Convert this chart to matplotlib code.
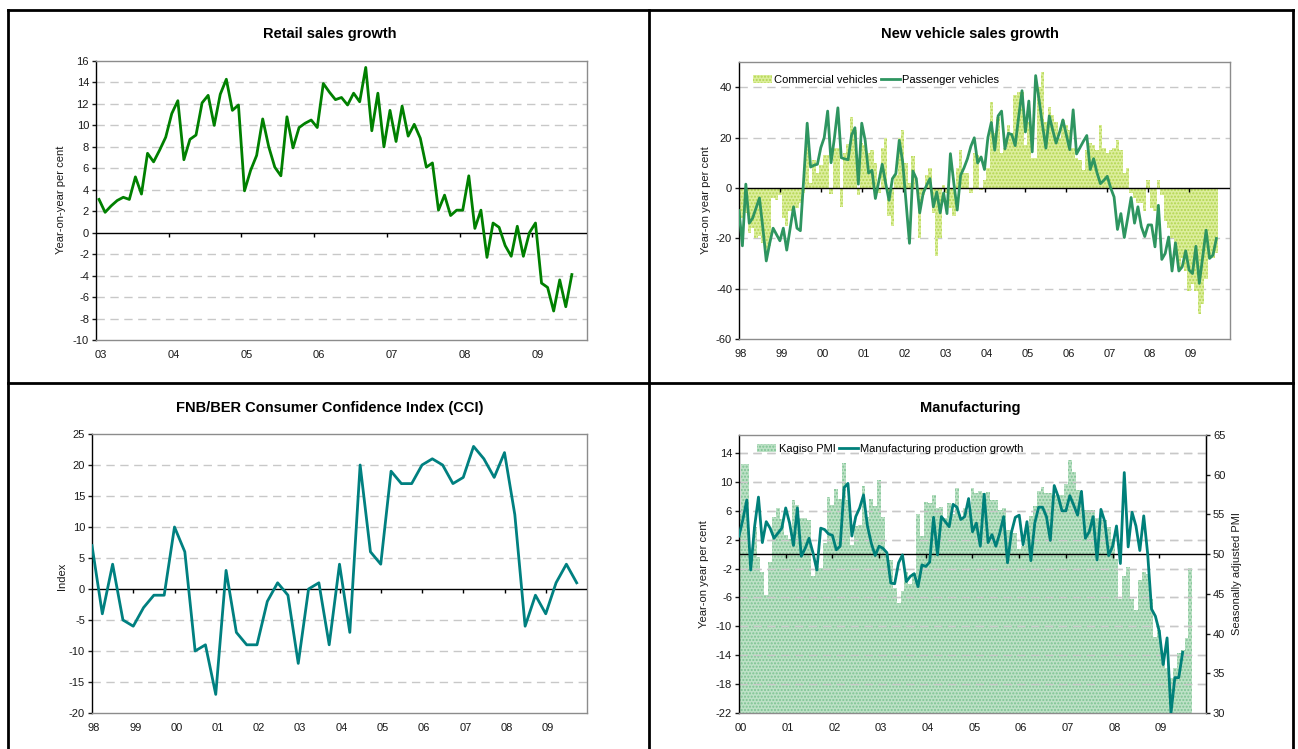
import matplotlib.pyplot as plt
import numpy as np
from matplotlib.lines import Line2D

plt.rcParams['font.family'] = ['Liberation Sans', 'DejaVu Sans']
plt.rcParams['axes.unicode_minus'] = False

# Retail sales growth, y/y %, monthly Jan 2003 - Jul 2009
retail = [3.1, 1.9, 2.5, 3.0, 3.3, 3.1, 5.2, 3.6, 7.4, 6.6, 7.7, 8.9,
          11.1, 12.3, 6.8, 8.7, 9.1, 12.1, 12.8, 10.0, 12.9, 14.3, 11.4, 11.9,
          3.9, 5.8, 7.2, 10.6, 8.0, 6.1, 5.3, 10.8, 7.9, 9.8, 10.2, 10.5,
          9.8, 13.9, 13.1, 12.4, 12.6, 11.9, 13.0, 12.2, 15.4, 9.5, 13.0, 8.0,
          11.4, 8.5, 11.8, 9.0, 10.1, 8.8, 6.1, 6.5, 2.1, 3.5, 1.6, 2.1,
          2.1, 5.3, 0.4, 2.1, -2.3, 0.9, 0.5, -1.2, -2.2, 0.6, -2.2, 0.0,
          0.9, -4.7, -5.1, -7.3, -4.4, -6.9, -3.9]
retail_years = ['03', '04', '05', '06', '07', '08', '09']

# New vehicle sales growth, y/y %, monthly Jan 1998 - Sep 2009
commercial = [-13, -12, -10, -18, -16, -20, -19, -22, -27, -23, -4, -5,
              -3, -12, -15, -9, -11, -8, -6, -2, 20, 2, 11, 6,
              9, 13, 13, -2.5, 16, 16, -7.5, 14, 17.5, 28, 23, -3,
              18, 17, 14, 15, 10, -2, 16, 20, -11, -15, 5, 20,
              23, 10, 2, 12.5, 0, -20, -3, 5, 8, -10, -27, -20,
              1, -2, -8, -11, 8, 15, 6, 6, -2, 14, 13, -1,
              3, 8, 34, 22, 28, 14, 16, 25, 22, 37, 38, 38,
              17, 26, 12, 12, 40, 46, 26, 32, 29, 26, 20, 27,
              25, 23, 16, 12, 11, 7, 15, 18, 17, 15, 25, 16,
              14, 15, 16, 19, 15, 6, 8, -2, -4, -6, -6, -9,
              3, -8, -9, 3, -3, -13, -16, -20, -22, -32, -28, -33,
              -41, -38, -41, -50, -46, -36, -28, -28, -26]
passenger = [-9, -23, 1.5, -14, -12, -8, -4, -16, -29, -22, -16, -18.5,
             -21, -16, -24.7, -16, -7.5, -16, -17, 4, 25.7, 8.3, 9, 9.4,
             16, 20, 30.5, 10, 20, 31.8, 12, 11.5, 11.2, 20.9, 23.9, 1.5,
             25.7, 18.9, 5.9, 7, -4.2, 2.5, 9.4, 2, -4.9, 3.7, 5.7, 18.9,
             10.3, -6, -22, 6.7, 3.7, -9.9, -2.2, 1, 3.7, -7.5, -1.6, -9.9,
             -2, -10.2, 13.6, 2, -8.8, 5, 8, 11.6, 16.5, 19.9, 9.9, 12.3,
             7.3, 20, 26, 15, 28.6, 30.5, 15.5, 21.7, 21.2, 16.8, 28, 38.6,
             22.2, 34.5, 14.3, 44.6, 35, 25, 15.8, 28.6, 23, 17.8, 22, 27,
             21, 15.2, 31, 13.5, 16, 18.5, 20.8, 7.3, 11.6, 6, 1.7, 3,
             4.6, 0, -3.6, -16.5, -10.2, -19.7, -12, -3.8, -14, -7.5, -15.4, -19.3,
             -14.7, -14.7, -23.4, -6.9, -28.4, -26, -19.5, -33, -21.8, -33, -31.3, -25,
             -32.6, -34, -23.2, -37.9, -27.3, -16.8, -28, -26.7, -20.1]
vehicle_years = ['98', '99', '00', '01', '02', '03', '04', '05', '06', '07', '08', '09']

# FNB/BER consumer confidence index, quarterly 1998Q1 - 2009Q4
cci = [7, -4, 4, -5, -6, -3, -1, -1, 10, 6, -10, -9,
       -17, 3, -7, -9, -9, -2, 1, -1, -12, 0, 1, -9,
       4, -7, 20, 6, 4, 19, 17, 17, 20, 21, 20, 17,
       18, 23, 21, 18, 22, 12, -6, -1, -4, 1, 4, 1]
cci_years = vehicle_years

# Kagiso PMI (seasonally adjusted), monthly Jan 2000 - Sep 2009
pmi = [55.0, 61.3, 61.3, 49.3, 53.4, 49.7, 47.8, 44.9, 49.0, 54.7, 55.8, 54.4,
       52.4, 51.9, 56.8, 56.2, 54.6, 54.5, 54.3, 47.2, 48.5, 48.3, 51.4, 57.2,
       56.2, 58.2, 56.9, 61.5, 56.8, 51.2, 53.6, 53.7, 58.6, 54.7, 56.9, 56.1,
       59.3, 54.7, 49.9, 49.3, 45.7, 43.9, 45.3, 47.8, 46.2, 47.6, 55.0, 52.3,
       56.6, 56.4, 57.4, 55.8, 55.9, 54.5, 56.4, 55.0, 58.3, 54.5, 55.8, 55.4,
       58.3, 57.7, 57.9, 57.7, 57.8, 56.8, 56.8, 55.5, 55.8, 53.0, 53.0, 52.6,
       50.7, 51.0, 52.6, 54.8, 56.0, 58.0, 58.5, 57.7, 57.7, 57.5, 57.4, 57.4,
       58.8, 61.9, 60.3, 58.1, 58.0, 55.6, 55.6, 55.6, 54.5, 54.3, 54.3, 53.4,
       51.9, 49.4, 44.3, 47.3, 48.4, 44.3, 43.0, 46.8, 47.8, 47.5, 44.3, 39.6,
       40.4, 37.5, 35.7, 34.4, 35.7, 37.5, 37.9, 39.4, 48.2]
# Manufacturing production growth, y/y %, monthly Jan 2000 - Jul 2009
manufacturing = [2.5, 4.8, 7.5, -2.2, 3.8, 7.9, 1.6, 4.5, 3.6, 2.2, 2.9, 3.6,
                 6.4, 4.3, 1.2, 6.4, -0.3, 0.8, 2.2, 0.2, -2.2, 3.6, 3.4, 2.8,
                 2.6, 0.6, 1.1, 9.2, 9.8, 2.5, 5.2, 6.4, 8.2, 3.9, 1.5, -0.2,
                 1.1, 0.8, 0.2, -4.0, -4.1, -1.2, -0.1, -3.8, -3.1, -2.7, -4.5, -1.5,
                 -1.7, -1.1, 5.1, -0.1, 5.2, 4.5, 3.8, 6.9, 6.5, 4.8, 5.2, 7.7,
                 3.1, 4.3, 1.1, 8.3, 1.6, 2.7, 1.1, 2.9, 5.2, -1.2, 3.0, 5.1,
                 5.4, 1.3, 4.5, -0.9, 4.3, 6.5, 6.5, 5.2, 1.9, 9.5, 8.0, 6.0,
                 6.0, 8.1, 6.8, 5.4, 8.7, 2.2, 3.1, 5.2, -0.8, 6.2, 4.5, -0.2,
                 1.1, 3.9, -1.3, 11.3, 1.0, 5.8, 3.9, 0.5, 5.3, 0.1, -7.6, -8.6,
                 -10.7, -15.3, -11.6, -22.0, -17.1, -17.1, -13.6]
manu_years = ['00', '01', '02', '03', '04', '05', '06', '07', '08', '09']

W, H = 1298, 749
GRID = '#c8c8c8'
FRAME = '#8c8c8c'
TXT = '#1a1a1a'
FS = 8


def px(x, y, w, h):
    # axes rect from pixel box (left, top, width, height)
    return [x / W, 1 - (y + h) / H, w / W, h / H]


def style(ax, yticks, ylim, xlim, labels, label_pos, tick_pos, tick_len):
    ax.set_xlim(xlim)
    ax.set_ylim(ylim)
    ax.set_yticks(yticks)
    for y in yticks:
        if y != 0 and ylim[0] < y < ylim[1]:
            ax.axhline(y, color=GRID, lw=1, dashes=(6, 4), zorder=0)
    ax.axhline(0, color='black', lw=1, zorder=4)
    ax.vlines(tick_pos, 0, -tick_len, color='black', lw=1, zorder=4, clip_on=False)
    ax.set_xticks(label_pos)
    ax.set_xticklabels(labels)
    ax.tick_params(axis='x', length=0, pad=7, labelsize=FS, colors=TXT)
    ax.tick_params(axis='y', length=3, width=1, direction='out', pad=2,
                   labelsize=FS, colors=TXT)
    for s in ['top', 'right', 'bottom']:
        ax.spines[s].set_color(FRAME)
        ax.spines[s].set_linewidth(1)
    ax.spines['left'].set_color('black')
    ax.spines['left'].set_linewidth(1)


fig = plt.figure(figsize=(W / 100, H / 100), dpi=100)

# ---- Retail sales growth
ax1 = fig.add_axes(px(96, 61, 491, 279))
x = np.arange(len(retail))
ax1.plot(x, retail, color='#008000', lw=2, zorder=5)
style(ax1, np.arange(-10, 17, 2), (-10, 16), (-0.5, 80.5), retail_years,
      np.arange(0, 73, 12) + 0.3, np.arange(11.5, 80, 12), 0.4)

# ---- New vehicle sales growth
ax2 = fig.add_axes(px(739, 62, 491, 277))
m = np.arange(len(passenger))
bars2 = ax2.bar(m, commercial, width=1.0, color='#dcee9c', edgecolor='#b2d650',
                hatch='.....', linewidth=0, zorder=1)
line2, = ax2.plot(m, passenger, color='#2e9560', lw=2, zorder=5)
style(ax2, np.arange(-60, 41, 20), (-60, 50), (0, 144), vehicle_years,
      np.arange(0, 133, 12) + 0.6, np.arange(12, 144, 12), 1.6)
ax2.legend([bars2.patches[0], line2], ['Commercial vehicles', 'Passenger vehicles'],
           loc='upper left', bbox_to_anchor=(0.02, 0.97), ncol=2, frameon=False,
           fontsize=8, handlelength=1.7, handletextpad=0.2, columnspacing=0.3,
           borderaxespad=0)

# ---- Consumer confidence
ax3 = fig.add_axes(px(92, 434, 495, 279))
q = np.arange(len(cci))
ax3.plot(q, cci, color='#008080', lw=2, zorder=5)
style(ax3, np.arange(-20, 26, 5), (-20, 25), (0, 48), cci_years,
      np.arange(0, 45, 4) + 0.2, np.arange(4, 48, 4), 0.65)

# ---- Manufacturing
ax4 = fig.add_axes(px(739, 435, 467, 278))
ax4r = ax4.twinx()
ax4.set_zorder(ax4r.get_zorder() + 1)
ax4.patch.set_visible(False)
mb = np.arange(len(pmi))
bars4 = ax4r.bar(mb, np.array(pmi) - 30, bottom=30, width=1.0, color='#bde1c6',
                 edgecolor='#7cc392', hatch='.....', linewidth=0, zorder=1)
ax4r.set_ylim(30, 65)
ax4r.set_yticks(np.arange(30, 66, 5))
for v in np.arange(-18, 15, 4):
    ax4r.axhline(50 + v / 1.1, color=GRID, lw=1, dashes=(6, 4), zorder=0)
ax4r.tick_params(axis='y', length=3, width=1, direction='out', pad=2,
                 labelsize=FS, colors=TXT)
ax4r.spines['right'].set_color('black')
for s in ['top', 'bottom', 'left']:
    ax4r.spines[s].set_visible(False)
mp = np.arange(len(manufacturing))
line4, = ax4.plot(mp, manufacturing, color='#00807a', lw=2, zorder=5)
style(ax4, np.arange(-22, 15, 4), (-22, 16.5), (0, 120), manu_years,
      np.arange(0, 109, 12) + 0.5, np.arange(12, 120, 12), 0.55)
ax4.spines['right'].set_color('black')
ax4.legend([bars4.patches[0], line4], ['Kagiso PMI', 'Manufacturing production growth'],
           loc='upper left', bbox_to_anchor=(0.03, 0.985), ncol=2, frameon=False,
           fontsize=8, handlelength=1.7, handletextpad=0.2, columnspacing=0.3,
           borderaxespad=0)

# ---- titles and axis labels
for tx, ty, t in [(330, 34, 'Retail sales growth'),
                  (970, 34, 'New vehicle sales growth'),
                  (330, 408, 'FNB/BER Consumer Confidence Index (CCI)'),
                  (970, 408, 'Manufacturing')]:
    fig.text(tx / W, 1 - ty / H, t, ha='center', va='center',
             fontsize=10.5, fontweight='bold', color='black')

for tx, ty, t in [(61, 200, 'Year-on-year per cent'),
                  (706, 200, 'Year-on year per cent'),
                  (62, 576, 'Index'),
                  (704, 574, 'Year-on year per cent'),
                  (1237, 574, 'Seasonally adjusted PMI')]:
    fig.text(tx / W, 1 - ty / H, t, ha='center', va='center', rotation=90,
             fontsize=8, color=TXT)

# ---- panel borders
for xs, ys in [([8, 1293], [10, 10]), ([8, 8], [10, 749]), ([1293, 1293], [10, 749]),
               ([649, 649], [10, 749]), ([8, 1293], [383, 383])]:
    fig.add_artist(Line2D([v / W for v in xs], [1 - v / H for v in ys],
                          color='black', lw=2))

fig.savefig('out.png', dpi=100)
